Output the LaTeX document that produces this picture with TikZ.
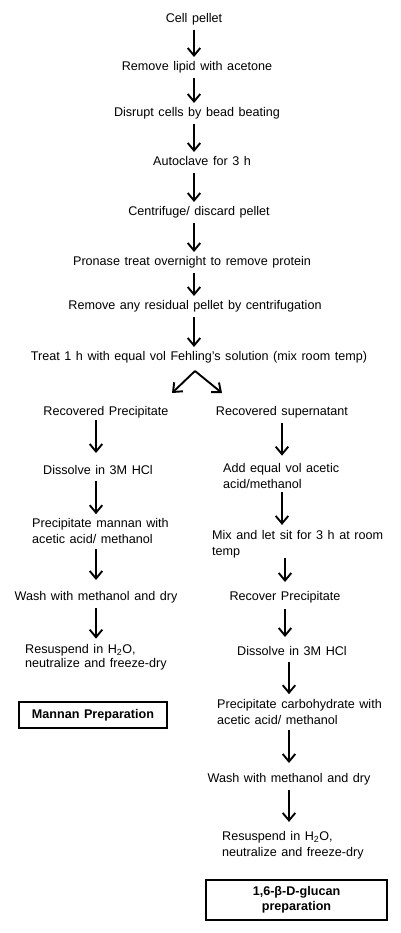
\documentclass[tikz,border=0pt]{standalone}
\usepackage{fontspec}
\setmainfont[WordSpace=1.3]{Liberation Sans}
\usetikzlibrary{arrows.meta}
\begin{document}
\begin{tikzpicture}[x=1pt,y=-1pt,
  txt/.style={font=\fontsize{12.6}{16}\selectfont, inner sep=0pt, text height=9pt, text depth=2.6pt},
  txttwo/.style={font=\fontsize{12.6}{16}\selectfont, inner sep=0pt, align=left, anchor=west},
  arr/.style={line width=1.9pt, -{Straight Barb[length=7.5pt,width=12.5pt,line width=1.9pt]}, shorten <=5pt, shorten >=4pt},
  resbox/.style={draw, line width=1.6pt, font=\bfseries\fontsize{12.6}{14.7}\selectfont, align=center, inner sep=0pt}
]
\useasboundingbox (0,0) rectangle (400,933);
% main column
\node[txt] (c1) at (194,19) {Cell pellet};
\node[txt] (c2) at (197,67) {Remove lipid with acetone};
\node[txt] (c3) at (197,113) {Disrupt cells by bead beating};
\node[txt] (c4) at (202,162) {Autoclave for 3 h};
\node[txt] (c5) at (199,212) {Centrifuge/ discard pellet};
\node[txt] (c6) at (192,262) {Pronase treat overnight to remove protein};
\node[txt] (c7) at (195,306) {Remove any residual pellet by centrifugation};
\node[txt] (c8) at (199,357) {Treat 1 h with equal vol Fehling{\char"27}s solution (mix room temp)};
\draw[arr] (c1.south -| c1) -- (c2.north -| c1);
\draw[arr] (c2.south -| c1) -- (c3.north -| c1);
\draw[arr] (c3.south -| c1) -- (c4.north -| c1);
\draw[arr] (c4.south -| c1) -- (c5.north -| c1);
\draw[arr] (c5.south -| c1) -- (c6.north -| c1);
\draw[arr] (c6.south -| c1) -- (c7.north -| c1);
\draw[arr] (c7.south -| c1) -- (c8.north -| c1);
% fork
\coordinate (fk) at (195,371);
\coordinate (fl) at (172,393);
\coordinate (fr) at (222,393);
\draw[arr, shorten <=0pt, shorten >=0pt] (fk) -- (fl);
\draw[arr, shorten <=0pt, shorten >=0pt] (fk) -- (fr);
% left column
\coordinate (lx) at (96,0);
\node[txt] (l1) at (106,412) {Recovered Precipitate};
\node[txt] (l2) at (98,471) {Dissolve in 3M HCl};
\node[txttwo] (l3) at (32,531) {Precipitate mannan with\\acetic acid/ methanol};
\node[txt] (l4) at (96,597) {Wash with methanol and dry};
\node[txttwo, font=\fontsize{12.6}{14.5}\selectfont] (l5) at (25,657) {Resuspend in H\textsubscript{2}O,\\neutralize and freeze-dry};
\node[resbox, minimum width=148pt, minimum height=26pt] (mb) at (93,715) {Mannan Preparation};
\draw[arr, shorten <=2pt, shorten >=12pt] (l1.south -| lx) -- (l2.north -| lx);
\draw[arr, shorten <=4pt, shorten >=4pt] (l2.south -| lx) -- (l3.north -| lx);
\draw[arr, shorten <=5pt, shorten >=11pt] (l3.south -| lx) -- (l4.north -| lx);
\draw[arr, shorten <=5pt, shorten >=5pt] (l4.south -| lx) -- (l5.north -| lx);
% right column
\node[txt] (r1) at (282,412) {Recovered supernatant};
\node[txttwo] (r2) at (223,475.5) {Add equal vol acetic\\acid/methanol};
\node[txttwo] (r3) at (212,544) {Mix and let sit for 3 h at room\\temp};
\node[txt] (r4) at (285,597) {Recover Precipitate};
\node[txt] (r5) at (292,652) {Dissolve in 3M HCl};
\node[txttwo] (r6) at (217,712) {Precipitate carbohydrate with\\acetic acid/ methanol};
\node[txt] (r7) at (289,779) {Wash with methanol and dry};
\node[txttwo] (r8) at (222,845) {Resuspend in H\textsubscript{2}O,\\neutralize and freeze-dry};
\node[resbox, minimum width=181pt, minimum height=40pt] (gb) at (296.5,900) {1,6-β-D-glucan\\preparation};
\draw[arr, shorten <=5pt, shorten >=7pt] (r1.south -| r1) -- (r2.north -| r1);
\draw[arr, shorten <=4pt, shorten >=5pt] (r2.south -| r1) -- (r3.north -| r1);
\draw[arr, shorten <=0pt, shorten >=9pt] (r3.south -| r4) -- (r4.north -| r4);
\draw[arr, shorten <=6pt, shorten >=9pt] (r4.south -| r4) -- (r5.north -| r4);
\draw[arr, shorten <=4pt, shorten >=5pt] (r5.south -| r7) -- (r6.north -| r7);
\draw[arr, shorten <=5pt, shorten >=10pt] (r6.south -| r7) -- (r7.north -| r7);
\draw[arr, shorten <=5pt, shorten >=9pt] (r7.south -| r7) -- (r8.north -| r7);
\end{tikzpicture}
\end{document}
